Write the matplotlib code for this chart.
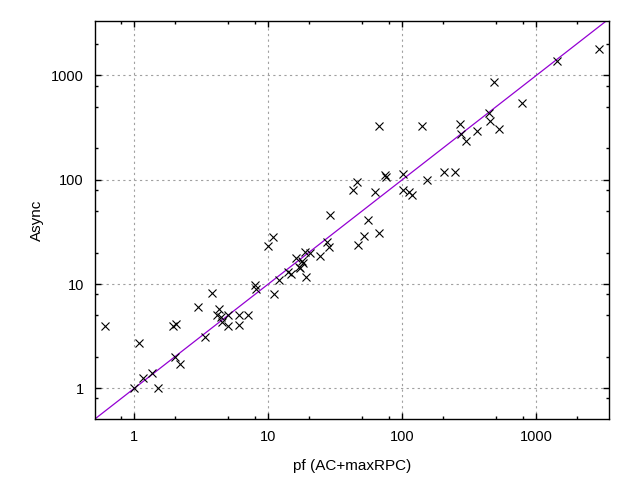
import numpy as np
import matplotlib
matplotlib.use("Agg")
import matplotlib.pyplot as plt
from matplotlib.ticker import LogLocator, FixedFormatter, NullFormatter

pf_x = [0.6, 1.09, 1.0, 1.17, 1.36, 1.51, 2.0, 2.18, 1.96, 2.03, 3.0, 3.38, 3.82,
        4.3, 4.12, 4.43, 4.49, 5.03, 5.03, 6.04, 6.04, 7.1, 8.0, 8.05, 10.0, 10.8,
        11.0, 12.1, 14.1, 14.7, 16.1, 17.8, 18.3, 17.0, 17.3, 19.1, 18.8, 20.5,
        24.3, 27.2, 28.3, 28.9, 43.1, 46.2, 47, 51.8, 55.7, 62.5, 67.4, 67.4,
        73.7, 75, 101.7, 100.7, 112, 117.5, 141, 153.8, 205.8, 248.7, 270, 273,
        299, 363, 447, 452, 486, 530, 787, 1419, 2951]
async_y = [4.0, 2.7, 1.0, 1.25, 1.39, 1.0, 2.0, 1.72, 4.0, 4.1, 6.0, 3.1, 8.15,
           5.72, 5.04, 4.8, 4.35, 5.04, 3.96, 5.04, 4.05, 5.04, 9.8, 9.0, 23.1, 28,
           8.0, 10.9, 13.1, 12.4, 17.6, 16.6, 15.8, 14.5, 14.2, 11.8, 20.4, 19.7,
           18.7, 25.1, 22.7, 45.9, 79.6, 94.4, 23.6, 28.9, 41, 75.7, 327, 30.6,
           111, 106, 113.5, 79.6, 75.7, 70.9, 330, 98.5, 119.3, 117.6, 345, 275,
           237, 290, 433, 367, 859, 303, 541, 1374, 1779]

major_ticks = [1, 10, 100, 1000]
major_labels = ["1", "10", "100", "1000"]
xlim = (0.509, 3486)
ylim = (0.508, 3345)

plt.rcParams['font.family'] = ['Liberation Sans', 'DejaVu Sans']
fig = plt.figure(figsize=(6.4, 4.8), dpi=100)
ax = fig.add_axes([95/640, 1-419/480, (609-95)/640, (419-20.7)/480])
ax.set_xscale('log')
ax.set_yscale('log')
ax.set_xlim(*xlim)
ax.set_ylim(*ylim)

for axis in (ax.xaxis, ax.yaxis):
    axis.set_major_locator(LogLocator(base=10, subs=(1.0,)))
    axis.set_minor_locator(LogLocator(base=10, subs=(2.0, 5.0, 8.0)))
    axis.set_minor_formatter(NullFormatter())
ax.set_xticks(major_ticks)
ax.set_xticklabels(major_labels)
ax.set_yticks(major_ticks)
ax.set_yticklabels(major_labels)

ax.grid(True, which='major', color='#a0a0a0', linestyle=(0, (2, 3)), linewidth=0.8)
ax.tick_params(which='both', direction='in', top=True, right=True, labelsize=10.5,
               colors='black', width=1)
ax.tick_params(which='major', length=4.5, pad=8)
ax.tick_params(which='minor', length=2.5)
for s in ax.spines.values():
    s.set_linewidth(1.0)

xs = np.logspace(np.log10(xlim[0]), np.log10(xlim[1]), 200)
ax.plot(xs, xs, color='#9400d3', linewidth=0.9, zorder=2)
ax.plot(pf_x, async_y, linestyle='none', marker='x', color='black',
        markersize=5.5, markeredgewidth=0.8, zorder=3)

ax.set_xlabel("pf (AC+maxRPC)", fontsize=11, labelpad=11)
ax.set_ylabel("Async", fontsize=11, labelpad=5)

fig.savefig("out.png", dpi=100)
